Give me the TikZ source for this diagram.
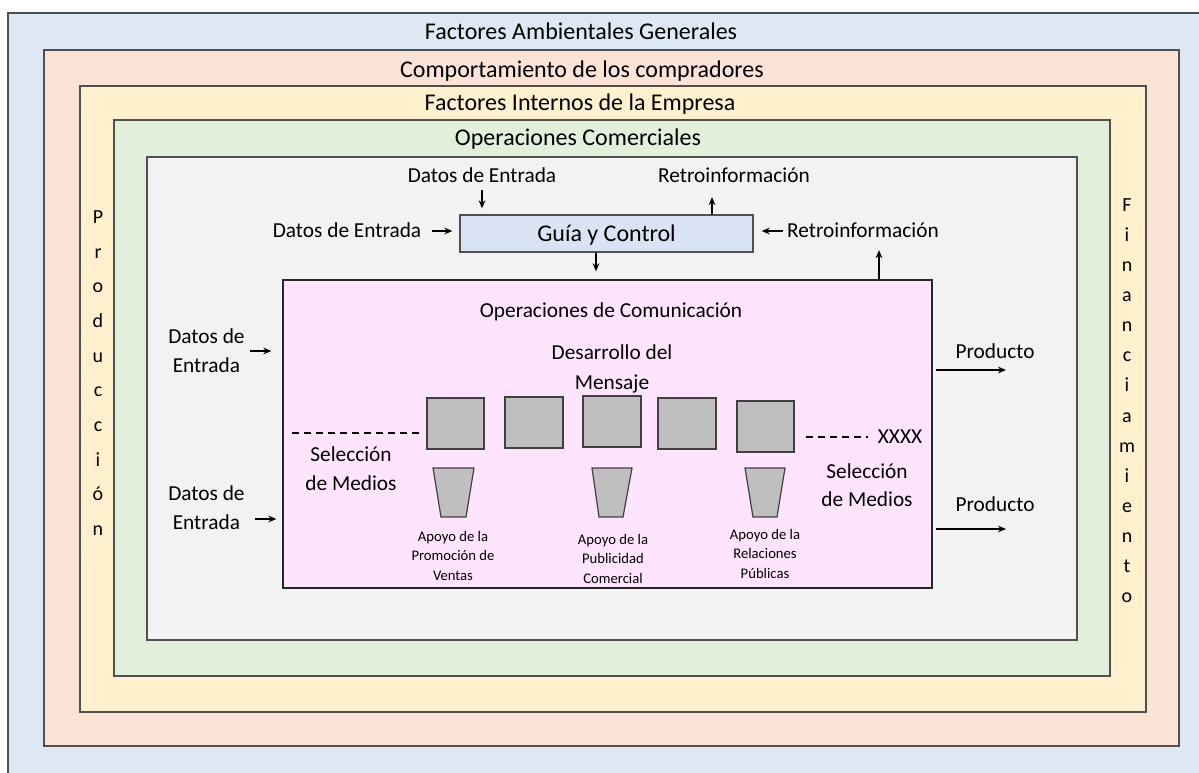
\documentclass[tikz,border=0pt]{standalone}
\usepackage{fontspec}
\setmainfont{Carlito}
\usetikzlibrary{fit,arrows.meta}

\definecolor{ambient}{HTML}{DEE8F5}
\definecolor{buyers}{HTML}{FBE4D6}
\definecolor{internal}{HTML}{FFF1CD}
\definecolor{commercial}{HTML}{E2EFDA}
\definecolor{operations}{HTML}{F2F2F2}
\definecolor{communication}{HTML}{FFE4FE}
\definecolor{guidance}{HTML}{DAE3F3}
\definecolor{blockfill}{HTML}{BFBFBF}
\definecolor{edge}{HTML}{505050}

\tikzset{
  layer/.style={draw=edge, line width=1pt, inner sep=0pt, fill=#1},
  panel/.style={draw=black!85, line width=1pt, inner sep=0pt, fill=#1},
  block/.style={draw=black!75, line width=0.9pt, fill=blockfill, inner sep=0pt},
  txt/.style={inner sep=0pt, text height=10.3pt, text depth=0pt, font=\fontsize{16}{19}\selectfont},
  title/.style={txt, text height=11.6pt, font=\fontsize{18}{22}\selectfont},
  twoline/.style={inner sep=0pt, align=center, font=\fontsize{16}{21.75}\selectfont},
  support/.style={inner sep=0pt, align=center, font=\fontsize{11}{14.6}\selectfont},
  sideword/.style={inner sep=0pt, align=center},
  arr/.style={-{Stealth[length=6pt,width=5pt]}, line width=1pt},
  cut/.style={line width=1.4pt, dash pattern=on 5.5pt off 3.5pt},
}

\begin{document}
\begin{tikzpicture}[x=0.75pt,y=-0.75pt]
\useasboundingbox (0,0) rectangle (1199,773);
\clip (0,0) rectangle (1199,773);
\fill[white] (0,0) rectangle (1199,773);

% nested environment frames
\node[layer=ambient, fit={(8,13) (1240,800)}] (ambient) {};
\node[layer=buyers, fit={(44,50) (1179,746)}] (buyers) {};
\node[layer=internal, fit={(80,86) (1146,712)}] (internal) {};
\node[layer=commercial, fit={(114,120) (1110,676)}] (commercial) {};
\node[layer=operations, fit={(147,157) (1077,640)}] (operations) {};

% frame titles
\node[title] (tAmb) at (581,32) {Factores Ambientales Generales};
\node[title] (tBuy) at (582,70) {Comportamiento de los compradores};
\node[title] (tInt) at (580,103) {Factores Internos de la Empresa};
\node[title] (tCom) at (578,138) {Operaciones Comerciales};

% vertical side words
\node[sideword, font=\fontsize{15}{26}\selectfont] (prod) at (98,373)
  {P\\r\\o\\d\\u\\c\\c\\i\\ó\\n};
\node[sideword, font=\fontsize{15}{22.6}\selectfont] (fin) at (1127,400.6)
  {F\\i\\n\\a\\n\\c\\i\\a\\m\\i\\e\\n\\t\\o};

% guidance and control
\node[panel=guidance, draw=edge, fit={(460,215) (753,252)}] (guia) {};
\node[title] (guiaText) at (guia.center) {Guía y Control};

\node[txt] (inTop) at (482,176) {Datos de Entrada};
\node[txt] (fbTop) at (734,176) {Retroinformación};
\node[txt] (inLeft) at (347,231) {Datos de Entrada};
\node[txt] (fbRight) at (863,231) {Retroinformación};

% communication operations
\node[panel=communication, fit={(283,280) (932,588)}] (pink) {};
\node[txt] (opc) at (611,311) {Operaciones de Comunicación};
\node[twoline, font=\fontsize{16}{22.5}\selectfont] (dev) at (612,368.5) {Desarrollo del\\Mensaje};

\node[block, fit={(427,398) (484,449)}] (b1) {};
\node[block, fit={(505,397) (563,448)}] (b2) {};
\node[block, fit={(583,396) (641,447)}] (b3) {};
\node[block, fit={(658,398) (716,449)}] (b4) {};
\node[block, fit={(737,401) (794,452)}] (b5) {};

\draw[block] (433,468) -- (474,468) -- (466,517) -- (441,517) -- cycle;
\draw[block] (592,468) -- (632,468) -- (623,517) -- (599,517) -- cycle;
\draw[block] (745,468) -- (785,468) -- (777,517) -- (753,517) -- cycle;

\node[support] (sup1) at (453,555.5) {Apoyo de la\\Promoción de\\Ventas};
\node[support] (sup2) at (613,558.5) {Apoyo de la\\Publicidad\\Comercial};
\node[support] (sup3) at (765,553.5) {Apoyo de la\\Relaciones\\Públicas};

\node[twoline] (selL) at (351,468.5) {Selección\\de Medios};
\node[twoline, font=\fontsize{16}{21}\selectfont] (selR) at (867,485) {Selección\\de Medios};
\node[txt] (xxxx) at (900,437) {XXXX};

\coordinate (dashL) at (292,433);
\draw[cut] (dashL) -- (dashL -| b1.west) [shorten >=5pt];
\draw[cut, shorten <=8.25pt, shorten >=7.5pt] (b5.east |- xxxx.west) -- (xxxx.west);

% external inputs on the left
\node[twoline, anchor=west] (inBlk1) at (168,351) {Datos de\\Entrada};
\node[twoline, anchor=west] (inBlk2) at (168,508) {Datos de\\Entrada};

% products
\node[txt] (out1Text) at (995,352) {Producto};
\node[txt] (out2Text) at (995,505) {Producto};
\coordinate (out1) at (1006,370);
\coordinate (out2) at (1006,529);

% connectors
\draw[arr, shorten <=5.3pt, shorten >=4.5pt] (inTop.south) -- (inTop.south |- guia.north);
\coordinate (xFb) at (712,0);
\draw[arr, shorten >=10.5pt] (guia.north -| xFb) -- (fbTop.south -| xFb);
\draw[arr, shorten <=8.25pt, shorten >=5.25pt] (inLeft.east) -- (inLeft.east -| guia.west);
\draw[arr, shorten <=3pt, shorten >=6pt] (fbRight.west) -- (fbRight.west -| guia.east);
\coordinate (xDown) at (596,0);
\draw[arr, shorten <=0.5pt, shorten >=6pt] (guia.south -| xDown) -- (pink.north -| xDown);
\coordinate (xUp) at (879,0);
\draw[arr, shorten >=9pt] (pink.north -| xUp) -- (fbRight.south -| xUp);

\draw[arr, shorten <=3.75pt, shorten >=8.25pt] (inBlk1.east) -- (inBlk1.east -| pink.west);
\draw[arr, shorten <=7.5pt, shorten >=4.5pt] ([yshift=-8.25pt]inBlk2.east) -- ([yshift=-8.25pt]inBlk2.east -| pink.west);

\draw[arr, shorten <=2.25pt] (pink.east |- out1) -- (out1);
\draw[arr, shorten <=2.25pt] (pink.east |- out2) -- (out2);
\end{tikzpicture}
\end{document}
